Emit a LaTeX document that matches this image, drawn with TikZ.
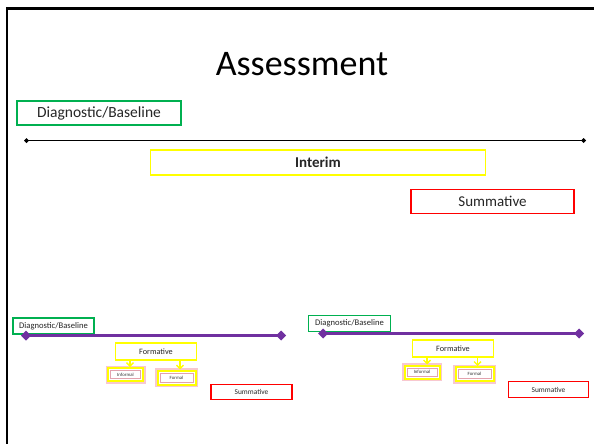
\documentclass[tikz,border=0pt]{standalone}
\usepackage{fontspec}
\setmainfont{Carlito}
\usetikzlibrary{arrows.meta}
\definecolor{boxgreen}{HTML}{00B050}
\definecolor{boxyellow}{HTML}{FFFF00}
\definecolor{boxred}{HTML}{FF0000}
\definecolor{linepurple}{HTML}{7030A0}
\definecolor{glowpink}{HTML}{F8C8D0}
\definecolor{innerpink}{HTML}{E3A2AE}
\tikzset{
  box/.style={draw, line width=1.2pt, inner sep=0pt, align=center, text=black!85},
  greenbox/.style={box, draw=boxgreen},
  yellowbox/.style={box, draw=boxyellow, line width=1.6pt},
  redbox/.style={box, draw=boxred},
  glowbox/.style={draw=boxyellow, line width=2pt, inner sep=0pt, fill=white,
    font=\fontsize{4.8}{5}\selectfont, text=black!80,
    preaction={draw=glowpink, line width=5pt},
    path picture={\draw[innerpink, line width=0.6pt]
      ([shift={(2.6pt,-2.6pt)}]path picture bounding box.north west) rectangle
      ([shift={(-2.6pt,2.6pt)}]path picture bounding box.south east);}},
  downarrow/.style={draw=boxyellow, line width=1.4pt,
    -{Straight Barb[length=3.5pt,width=7pt,line width=1.4pt]}},
  timeline/.style={line width=1.3pt, {Diamond[length=5pt,width=5pt]}-{Diamond[length=5pt,width=5pt]}},
  purpleline/.style={draw=linepurple, line width=2.6pt,
    {Diamond[length=10pt,width=10pt]}-{Diamond[length=10pt,width=10pt]}},
}
\begin{document}
\begin{tikzpicture}[x=1pt,y=-1pt]
\useasboundingbox (0,0) rectangle (594,444);
\fill[white] (0,0) rectangle (594,444);
% slide frame (top and left edges)
\draw[line width=2.2pt] (7,444) -- (7,8.5) -- (594,8.5);

% title
\node[anchor=base, font=\fontsize{36}{40}\selectfont] (title) at (302,75.5) {Assessment};

% main timeline
\node[greenbox, minimum width=164pt, minimum height=24pt, font=\fontsize{15.5}{18}\selectfont]
  (diag) at (99,113) {Diagnostic/Baseline};
\coordinate (tl0) at (24,140.5);
\coordinate (tl1) at (586,140.5);
\draw[timeline] (tl0) -- (tl1);
\node[yellowbox, minimum width=335pt, minimum height=25pt, font=\fontsize{15}{18}\selectfont\bfseries]
  (interim) at (318,162.5) {Interim};
\node[redbox, minimum width=163pt, minimum height=24pt, font=\fontsize{15}{18}\selectfont]
  (summ) at (492.5,201.5) {Summative};

% left small timeline
\node[greenbox, minimum width=81pt, minimum height=16pt, font=\fontsize{8.6}{10}\selectfont]
  (ldiag) at (53.5,326) {Diagnostic/Baseline};
\coordinate (la) at (21,335.5);
\coordinate (lb) at (286,335.5);
\draw[purpleline] (la) -- (lb);
\node[yellowbox, minimum width=81pt, minimum height=16.5pt, font=\fontsize{8.2}{10}\selectfont]
  (lform) at (156,351.5) {Formative};
\node[glowbox, minimum width=35pt, minimum height=13pt] (linf) at (125.5,374.5) {Informal};
\node[glowbox, minimum width=38pt, minimum height=14pt] (lfor) at (176.5,377.5) {Formal};
\draw[downarrow] (lform.south -| 130,0) -- (linf.north -| 130,0);
\draw[downarrow] (lform.south -| 180,0) -- (lfor.north -| 180,0);
\node[redbox, minimum width=81pt, minimum height=15.5pt, font=\fontsize{7.4}{9}\selectfont]
  (lsumm) at (251.5,392) {Summative};

% right small timeline
\node[greenbox, minimum width=82pt, minimum height=16.5pt, font=\fontsize{8.6}{10}\selectfont]
  (rdiag) at (349.5,323.5) {Diagnostic/Baseline};
\coordinate (ra) at (318,333.5);
\coordinate (rb) at (584,333.5);
\draw[purpleline] (ra) -- (rb);
\node[yellowbox, minimum width=81pt, minimum height=16.5pt, font=\fontsize{8.2}{10}\selectfont]
  (rform) at (453,348.5) {Formative};
\node[glowbox, minimum width=35pt, minimum height=13pt] (rinf) at (422,372) {Informal};
\node[glowbox, minimum width=38pt, minimum height=14pt] (rfor) at (474.5,374) {Formal};
\draw[downarrow] (rform.south -| 427,0) -- (rinf.north -| 427,0);
\draw[downarrow] (rform.south -| 477.5,0) -- (rfor.north -| 477.5,0);
\node[redbox, minimum width=80pt, minimum height=16pt, font=\fontsize{7.4}{9}\selectfont]
  (rsumm) at (548.5,389.5) {Summative};
\end{tikzpicture}
\end{document}
